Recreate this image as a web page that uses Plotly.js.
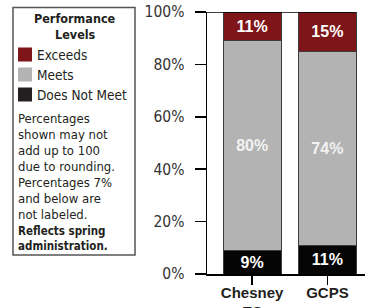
<!DOCTYPE html>
<html>
<head>
<meta charset="utf-8">
<script src="https://cdn.plot.ly/plotly-3.0.1.min.js"></script>
<style>html,body{margin:0;padding:0;background:#fff;}#chart{width:365px;height:308px;}</style>
</head>
<body>
<div id="chart"></div>
<script>
// ---- data ----
const categories = ["Chesney<br>ES", "GCPS"];
const seriesNames = ["Does Not Meet", "Meets", "Exceeds"];
const doesNotMeet = [9, 11];
const meets = [80, 74];
const exceeds = [11, 15];
const yTickVals = [0, 20, 40, 60, 80, 100];
const yTickText = ["0%", "20%", "40%", "60%", "80%", "100%"];
const legendTitle = ["Performance", "Levels"];
const notes = ["Percentages", "shown may not", "add up to 100", "due to rounding.", "Percentages 7%", "and below are", "not labeled."];
const notesBold = ["Reflects spring", "administration."];

// ---- styling ----
const colors = {"Does Not Meet": "#050505", "Meets": "#b3b3b3", "Exceeds": "#7e1518"};
const swatchColors = {"Does Not Meet": "#231f20", "Meets": "#b3b3b3", "Exceeds": "#7e1518"};
const NARROW = "'Liberation Sans Narrow', 'DejaVu Sans Condensed', 'Arial Narrow', sans-serif";
const BOLD = "'Liberation Sans', Arial, sans-serif";

const W = 365, H = 308, L = 207, R = 0, T = 12, B = 34;
const PW = W - L - R, PH = H - T - B;
const px2x = p => (p - L) / PW;
const py2y = p => (H - B - p) / PH;

const seriesVals = [doesNotMeet, meets, exceeds];
const traces = seriesNames.map((name, i) => ({
  type: "bar",
  name: name,
  x: categories,
  y: seriesVals[i],
  width: 0.77,
  marker: {color: colors[name], line: {color: "#3c3c3c", width: 1}},
  text: seriesVals[i].map(v => v > 7 ? v + "%" : ""),
  textposition: "inside",
  insidetextanchor: "middle",
  textangle: 0,
  textfont: {family: BOLD, size: 16, color: i === 1 ? "#f2f2f2" : "#ffffff", weight: "bold"},
  constraintext: "none",
  hoverinfo: "skip",
  showlegend: false
}));

const annotations = [];
const shapes = [];
// legend box
shapes.push({type: "rect", xref: "paper", yref: "paper", x0: px2x(13), x1: px2x(135), y0: py2y(255), y1: py2y(7.5),
  line: {color: "#555555", width: 1.5}, fillcolor: "rgba(0,0,0,0)"});
// legend title
legendTitle.forEach((t, i) => annotations.push({xref: "paper", yref: "paper", x: px2x(75), y: py2y(18.5 + i * 15.5),
  xanchor: "center", yanchor: "middle", showarrow: false, text: "<b>" + t + "</b>",
  font: {family: NARROW, size: 12.5, color: "#231f20"}}));
// legend entries
const legendOrder = ["Exceeds", "Meets", "Does Not Meet"];
legendOrder.forEach((n, i) => {
  const yc = 54.5 + i * 20;
  shapes.push({type: "rect", xref: "paper", yref: "paper", x0: px2x(18), x1: px2x(32), y0: py2y(yc + 7), y1: py2y(yc - 7),
    line: {width: 0}, fillcolor: swatchColors[n]});
  annotations.push({xref: "paper", yref: "paper", x: px2x(35), y: py2y(yc), xanchor: "left", yanchor: "middle",
    showarrow: false, text: n, font: {family: NARROW, size: 13.5, color: "#231f20"}});
});
notes.forEach((t, i) => annotations.push({xref: "paper", yref: "paper", x: px2x(16), y: py2y(118 + i * 16),
  xanchor: "left", yanchor: "middle", showarrow: false, text: t, font: {family: NARROW, size: 13, color: "#231f20"}}));
notesBold.forEach((t, i) => annotations.push({xref: "paper", yref: "paper", x: px2x(16), y: py2y(230.5 + i * 15.5),
  xanchor: "left", yanchor: "middle", showarrow: false, text: "<b>" + t + "</b>", font: {family: NARROW, size: 11.5, color: "#231f20"}}));
// top line at 100%
shapes.push({type: "line", xref: "paper", yref: "y", x0: 0, x1: px2x(356), y0: 100, y1: 100, line: {color: "#000", width: 1.5}});

const layout = {
  width: W, height: H,
  margin: {l: L, r: R, t: T, b: B, pad: 0},
  paper_bgcolor: "#fff", plot_bgcolor: "#fff",
  barmode: "stack",
  showlegend: false,
  xaxis: {range: [-0.6, 1.5], showgrid: false, zeroline: false, showline: true, linecolor: "#000", linewidth: 1.5,
    ticks: "outside", ticklen: 9, tickwidth: 1.5, tickcolor: "#000", ticklabelstandoff: -5,
    tickfont: {family: BOLD, size: 15, color: "#231f20", weight: "bold"}, fixedrange: true},
  yaxis: {range: [0, 100], tickvals: yTickVals, ticktext: yTickText, showgrid: false, zeroline: false,
    showline: true, linecolor: "#000", linewidth: 1.5, ticks: "outside", ticklen: 11, tickwidth: 1.5, tickcolor: "#000",
    ticklabelstandoff: 7, tickfont: {family: NARROW, size: 15.5, color: "#333"}, fixedrange: true},
  shapes: shapes,
  annotations: annotations
};
Plotly.newPlot("chart", traces, layout, {displayModeBar: false, staticPlot: true});
</script>
</body>
</html>
